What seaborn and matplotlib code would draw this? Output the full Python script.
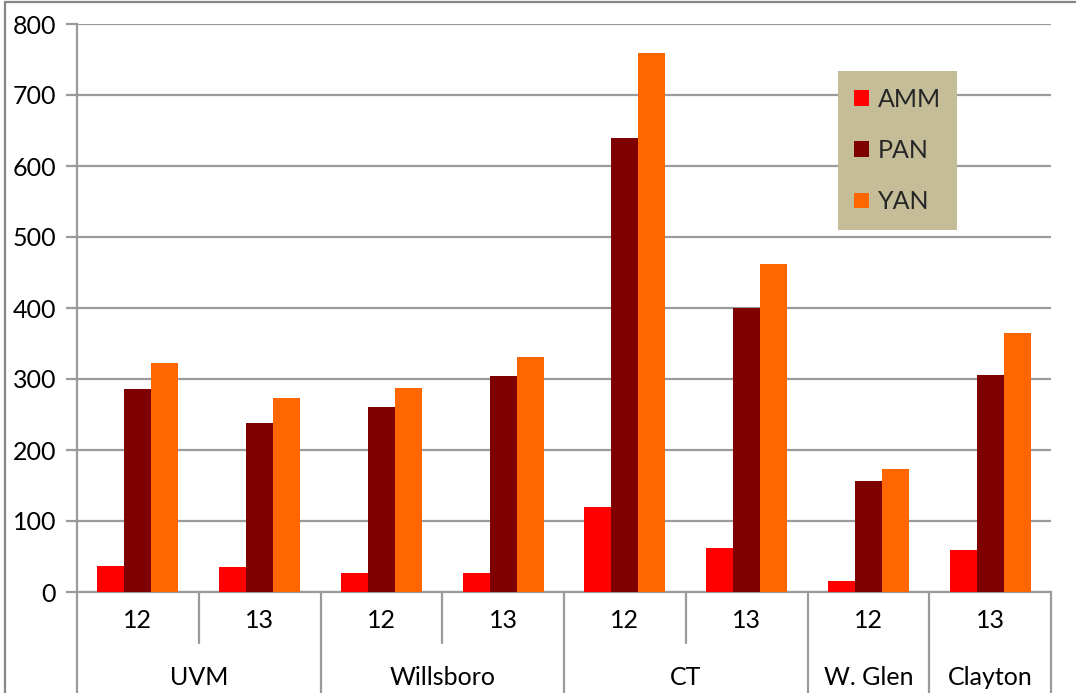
import matplotlib
matplotlib.use("Agg")
import matplotlib.pyplot as plt
import matplotlib.transforms as mtransforms
from matplotlib.lines import Line2D
from matplotlib.patches import Patch
import seaborn as sns
import pandas as pd

# Site / season labels for each column of bars
sites = ["UVM", "UVM", "Willsboro", "Willsboro", "CT", "CT", "W. Glen", "Clayton"]
years = ["12", "13", "12", "13", "12", "13", "12", "13"]

# Series values
series_names = ["AMM", "PAN", "YAN"]
amm = [37, 35, 27, 27, 120, 62, 15, 59]
pan = [286, 238, 261, 304, 639, 400, 156, 306]
yan = [323, 273, 287, 331, 759, 462, 173, 365]

colors = {"AMM": "#FF0000", "PAN": "#7F0000", "YAN": "#FF6600"}
grid_gray = "#9A9A9A"
font = "Lato"
fs = 18

keys = [f"{s}|{y}" for s, y in zip(sites, years)]
rows = []
for name, vals in zip(series_names, [amm, pan, yan]):
    for k, v in zip(keys, vals):
        rows.append({"cat": k, "series": name, "value": v})
df = pd.DataFrame(rows)

sns.set_style("white")
plt.rcParams["font.family"] = [font, "DejaVu Sans"]

fig = plt.figure(figsize=(10.76, 6.93), dpi=100)
ax = fig.add_axes([77 / 1076, 101 / 693, 974 / 1076, 568 / 693])

sns.barplot(data=df, x="cat", y="value", hue="series", order=keys,
            hue_order=series_names, palette=colors, width=0.665,
            saturation=1, ax=ax, legend=False, zorder=3)
for p in ax.patches:
    p.set_edgecolor("none")

ax.set_xlim(-0.5, len(keys) - 0.5)
ax.set_ylim(0, 800)
ax.set_yticks(range(0, 801, 100))
ax.yaxis.grid(True, color=grid_gray, linewidth=1.6, zorder=0)
ax.set_axisbelow(True)
ax.set_xlabel("")
ax.set_ylabel("")

for side in ["top", "right"]:
    ax.spines[side].set_visible(False)
for side in ["left", "bottom"]:
    ax.spines[side].set_color(grid_gray)
    ax.spines[side].set_linewidth(1.6)

ax.tick_params(axis="y", length=8, width=1.6, color=grid_gray, pad=7,
               labelsize=fs, labelcolor="black", left=True)
ax.set_xticks(range(len(keys)))
ax.set_xticklabels([])
ax.tick_params(axis="x", length=0)

# Two-level category axis: season labels, then site labels
trans = mtransforms.blended_transform_factory(ax.transData, ax.transAxes)
for i, y in enumerate(years):
    ax.text(i, -0.051, y, transform=trans, ha="center", va="center",
            fontsize=fs, color="black")

groups = []
for i, s in enumerate(sites):
    if groups and groups[-1][0] == s:
        groups[-1][2] = i
    else:
        groups.append([s, i, i])

group_edges = set()
for s, a, b in groups:
    ax.text((a + b) / 2, -0.15, s, transform=trans, ha="center",
            va="center", fontsize=fs, color="black")
    group_edges.add(a - 0.5)
    group_edges.add(b + 0.5)

for i in range(len(keys) + 1):
    xpos = i - 0.5
    ybot = -0.18 if xpos in group_edges else -0.0898
    ax.add_line(Line2D([xpos, xpos], [0, ybot], transform=trans,
                       color=grid_gray, linewidth=1.6, clip_on=False))

# Legend with tan background
handles = [Patch(facecolor=colors[n], edgecolor="none", label=n)
           for n in series_names]
leg = ax.legend(handles=handles, loc="upper left",
                bbox_to_anchor=(0.781, 0.917), fontsize=fs,
                frameon=True, fancybox=False, framealpha=1,
                handlelength=0.58, handleheight=0.58, handletextpad=0.35,
                labelspacing=1.13, borderpad=0.66, borderaxespad=0)
leg.get_frame().set_facecolor("#C4BD97")
leg.get_frame().set_edgecolor("none")

# Outer chart border
fig.add_artist(Line2D([5 / 1076, 5 / 1076], [0, 1 - 2 / 693],
                      transform=fig.transFigure, color="#868686", linewidth=1.6))
fig.add_artist(Line2D([5 / 1076, 1], [1 - 2 / 693, 1 - 2 / 693],
                      transform=fig.transFigure, color="#868686", linewidth=1.6))

fig.savefig("out.png", dpi=100)
